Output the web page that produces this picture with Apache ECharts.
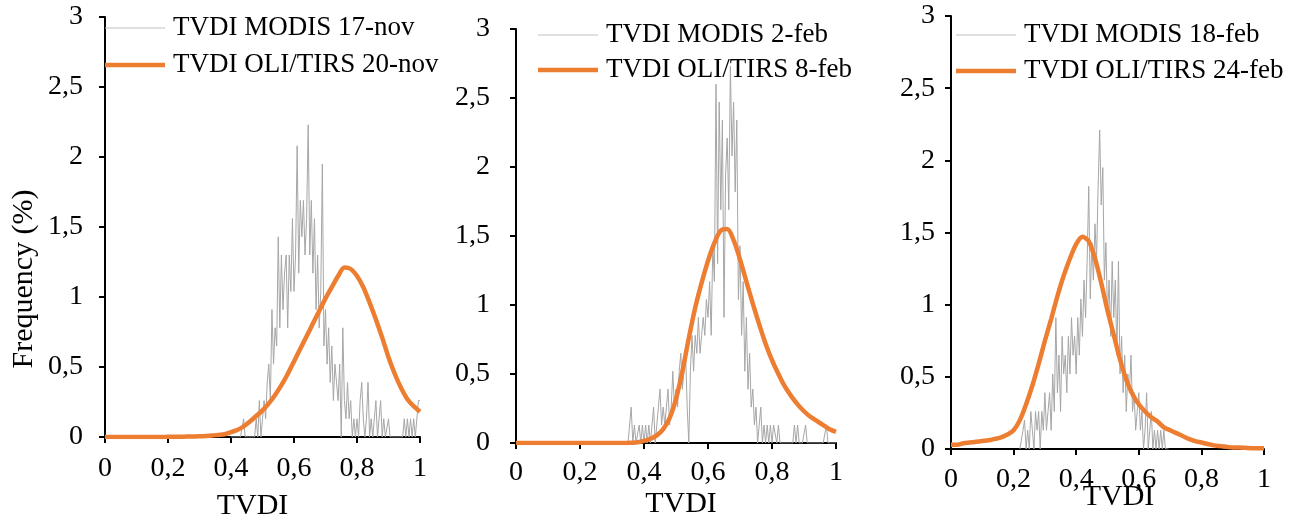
<!DOCTYPE html>
<html>
<head>
<meta charset="utf-8">
<script src="https://cdn.jsdelivr.net/npm/echarts@6/dist/echarts.min.js"></script>
<style>
html,body{margin:0;padding:0;background:#fff;}
#chart{width:1294px;height:519px;}
</style>
</head>
<body>
<div id="chart"></div>
<script>
// ---- DATA ----
const xTicks = [0, 0.2, 0.4, 0.6, 0.8, 1];
const yTicks = [0, 0.5, 1, 1.5, 2, 2.5, 3];

const modisBinStep = 0.005;
const oliBinStep = 0.02;

// Panel 1
const modisNovName = 'TVDI MODIS 17-nov';
const oliNovName = 'TVDI OLI/TIRS 20-nov';
const modisNovStart = 0.40;
const modisNov = [
  0,0,0,0,0,0,0,0,0.13,0,
  0,0,0,0,0,0,0.13,0,0.26,0,
  0.13,0.26,0.13,0.39,0.52,0.26,0.91,0.52,0.78,0.65,
  1.43,0.78,1.30,0.91,1.17,1.30,0.78,1.30,1.04,1.56,
  1.04,1.30,2.08,1.17,1.69,1.43,1.69,1.30,1.56,2.23,
  1.30,1.69,1.17,1.56,0.91,1.30,0.78,1.04,1.95,0.65,
  0.91,0.52,0.78,0.39,0.65,0.26,0.52,0.39,0.26,0.52,
  0,0.78,0.26,0.13,0.39,0.13,0.26,0,0.13,0,
  0.13,0,0.26,0.39,0.13,0,0.13,0.39,0,0.13,
  0,0.13,0.26,0,0.13,0.26,0,0.13,0,0,
  0.13,0,0,0,0,0,0,0,0,0,
  0.13,0,0.13,0,0.13,0,0.13,0,0,0.26,
  0.26
];
const oliNov = [
  0,0,0,0,0,0,0,0,0,0,
  0.001,0.001,0.002,0.003,0.004,0.005,0.007,0.01,0.015,0.02,
  0.035,0.05,0.075,0.11,0.15,0.19,0.24,0.30,0.37,0.45,
  0.54,0.63,0.72,0.81,0.90,0.99,1.07,1.15,1.21,1.20,
  1.15,1.07,0.96,0.84,0.71,0.57,0.45,0.35,0.27,0.22,
  0.18
];

// Panel 2
const modisFeb2Name = 'TVDI MODIS 2-feb';
const oliFeb8Name = 'TVDI OLI/TIRS 8-feb';
const modisFeb2Start = 0.35;
const modisFeb2 = [
  0,0,0.26,0,0.13,0,0,0.13,0,0.13,
  0,0.13,0,0.13,0,0.13,0.26,0,0.13,0.26,
  0.39,0.13,0.26,0.13,0.26,0.39,0.13,0.26,0.52,0.26,
  0.39,0.26,0.52,0.65,0.39,0.52,0.65,0.26,0,0.52,
  0.78,0.52,0.78,0.65,0.91,0.65,0.78,0.91,0.78,1.04,
  0.91,1.17,0.78,1.43,1.17,2.60,1.30,2.47,1.69,2.34,
  0.91,1.95,2.21,1.69,2.73,2.08,2.47,1.82,2.34,1.04,
  1.43,0.78,1.17,0.52,0.91,0.39,0.65,0.26,0.39,0.13,
  0.26,0,0.13,0.26,0,0.13,0,0.13,0,0.13,
  0,0.13,0.13,0,0.13,0,0,0,0,0,
  0,0,0,0,0.13,0,0.13,0,0,0,
  0,0.13,0,0,0,0,0,0,0,0,
  0,0,0,0,0.13,0,0,0,0,0,
  0
];
const oliFeb8 = [
  0,0,0,0,0,0,0,0,0,0,
  0,0,0,0,0,0,0,0,0.002,0.005,
  0.015,0.03,0.055,0.10,0.18,0.32,0.52,0.76,0.98,1.16,
  1.32,1.45,1.54,1.55,1.47,1.33,1.17,1.01,0.86,0.72,
  0.60,0.50,0.41,0.34,0.28,0.23,0.19,0.16,0.13,0.10,
  0.08
];

// Panel 3
const modisFeb18Name = 'TVDI MODIS 18-feb';
const oliFeb24Name = 'TVDI OLI/TIRS 24-feb';
const modisFeb18Start = 0.22;
const modisFeb18 = [
  0,0,0.13,0.20,0,0.13,0,0.26,0.13,0,
  0.26,0.13,0.26,0,0.26,0.13,0.39,0.13,0.26,0.39,
  0.13,0.52,0.26,0.91,0.39,0.65,0.26,0.78,0.52,0.65,
  0.39,0.78,0.52,0.91,0.65,0.78,0.52,0.91,0.65,1.04,
  0.78,1.17,0.91,1.30,1.82,1.04,1.43,1.17,1.56,1.30,
  1.82,2.21,1.69,1.95,1.17,1.43,0.91,1.17,0.78,1.30,
  0.91,1.17,0.65,1.30,0.52,0.78,0.39,0.65,0.26,0.52,
  0.39,0.65,0.26,0.39,0.13,0.26,0.39,0.13,0.26,0,
  0.13,0.39,0,0.13,0.26,0,0.13,0,0.13,0,
  0.13,0,0.13,0,0,0
];
const oliFeb24 = [
  0.03,0.03,0.04,0.045,0.05,0.055,0.06,0.07,0.08,0.10,
  0.13,0.20,0.31,0.44,0.59,0.75,0.90,1.06,1.20,1.32,
  1.42,1.47,1.44,1.32,1.15,0.96,0.79,0.62,0.48,0.38,
  0.31,0.26,0.22,0.19,0.15,0.13,0.11,0.09,0.07,0.055,
  0.045,0.035,0.025,0.02,0.015,0.01,0.01,0.008,0.006,0.005,
  0.005
];

// ---- BUILD ----
const FONT = 'Liberation Serif';
const FS_TICK = 28;
const FS_NAME = 30;
const FS_LEG = 27;
const GRAY = '#a6a6a6';
const ORANGE = '#ed7d31';

function toPairs(values, start, step) {
  return values.map((v, i) => [+(start + i * step).toFixed(4), v]);
}
const fmt = v => String(+v.toFixed(2)).replace('.', ',');

const panels = [
  { grid: {left:105, top:17, width:315, height:420}, modisName: modisNovName, oliName: oliNovName,
    modis: toPairs(modisNov, modisNovStart, modisBinStep), oli: toPairs(oliNov, 0, oliBinStep),
    legend: {left:105, y1:28, y2:65}, xNameGap: 54, xNamePad: [0, 20, 0, 0], xMargin: 18, yMargin: 22,
    yName: 'Frequency (%)' },
  { grid: {left:516, top:29, width:320, height:414}, modisName: modisFeb2Name, oliName: oliFeb8Name,
    modis: toPairs(modisFeb2, modisFeb2Start, modisBinStep), oli: toPairs(oliFeb8, 0, oliBinStep),
    legend: {left:538, y1:35, y2:70}, xNameGap: 46, xNamePad: [0, 0, 0, 10], xMargin: 16, yMargin: 26,
    yName: '' },
  { grid: {left:951, top:16, width:313, height:433}, modisName: modisFeb18Name, oliName: oliFeb24Name,
    modis: toPairs(modisFeb18, modisFeb18Start, modisBinStep), oli: toPairs(oliFeb24, 0, oliBinStep),
    legend: {left:956, y1:35, y2:71}, xNameGap: 33, xNamePad: [0, 0, 0, 22], xMargin: 17, yMargin: 16,
    yName: '' }
];

const option = {
  animation: false,
  backgroundColor: '#fff',
  grid: [], xAxis: [], yAxis: [], series: [], legend: []
};

panels.forEach((p, i) => {
  option.grid.push(Object.assign({ outerBoundsMode: 'none', containLabel: false }, p.grid));
  option.xAxis.push({
    type: 'value', gridIndex: i, min: xTicks[0], max: xTicks[xTicks.length - 1], interval: 0.2,
    name: 'TVDI', nameLocation: 'middle', nameGap: p.xNameGap, nameMoveOverlap: false,
    nameTextStyle: { fontFamily: FONT, fontSize: FS_NAME, color: '#000', padding: p.xNamePad },
    axisLine: { show: true, onZero: false, lineStyle: { color: '#000', width: 2 } },
    axisTick: { show: true, length: 6, lineStyle: { color: '#000', width: 2 } },
    axisLabel: { fontFamily: FONT, fontSize: FS_TICK, color: '#000', margin: p.xMargin, formatter: fmt },
    splitLine: { show: false }
  });
  option.yAxis.push({
    type: 'value', gridIndex: i, min: yTicks[0], max: yTicks[yTicks.length - 1], interval: 0.5,
    name: p.yName, nameLocation: 'middle', nameGap: 66, nameRotate: 90, nameMoveOverlap: false,
    nameTextStyle: { fontFamily: FONT, fontSize: FS_NAME, color: '#000', padding: [0, 104, 0, 0] },
    axisLine: { show: true, onZero: false, lineStyle: { color: '#000', width: 2 } },
    axisTick: { show: true, length: 6, lineStyle: { color: '#000', width: 2 } },
    axisLabel: { fontFamily: FONT, fontSize: FS_TICK, color: '#000', margin: p.yMargin, formatter: fmt },
    splitLine: { show: false }
  });
  option.series.push({
    name: p.modisName, type: 'line', xAxisIndex: i, yAxisIndex: i, data: p.modis,
    symbol: 'none', showSymbol: false, lineStyle: { color: GRAY, width: 1 },
    itemStyle: { color: GRAY }, z: 2
  });
  option.series.push({
    name: p.oliName, type: 'line', xAxisIndex: i, yAxisIndex: i, data: p.oli,
    symbol: 'none', showSymbol: false, smooth: 0.3, lineStyle: { color: ORANGE, width: 4.5 },
    itemStyle: { color: ORANGE }, z: 3
  });
  const legendBase = {
    orient: 'vertical', left: p.legend.left, itemWidth: 60, padding: 0, icon: 'rect',
    textStyle: { fontFamily: FONT, fontSize: FS_LEG, color: '#000', lineHeight: 30, padding: [0, 0, 0, 3] },
    selectedMode: false
  };
  option.legend.push(Object.assign({}, legendBase, {
    data: [p.modisName], top: p.legend.y1 - 15, itemHeight: 1,
    itemStyle: { color: '#bfbfbf' }
  }));
  option.legend.push(Object.assign({}, legendBase, {
    data: [p.oliName], top: p.legend.y2 - 15, itemHeight: 4.5
  }));
});

const chart = echarts.init(document.getElementById('chart'), null, { renderer: 'canvas' });
chart.setOption(option);
</script>
</body>
</html>
